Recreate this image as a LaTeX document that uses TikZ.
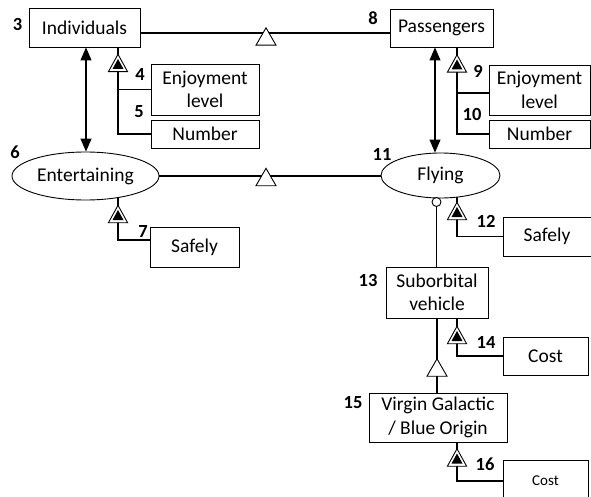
\documentclass[tikz,border=0pt]{standalone}
\usepackage{fontspec}
\setmainfont{Carlito}
\usetikzlibrary{shapes.geometric,arrows.meta}
\pgfdeclarelayer{links}
\pgfsetlayers{links,main}
\tikzset{
  obj/.style={draw, fill=white, line width=0.9pt, inner sep=0pt, align=center,
    font=\fontsize{19.5}{23.5}\selectfont},
  proc/.style={obj, ellipse},
  num/.style={inner sep=0pt, font=\fontsize{18.5}{20}\selectfont\bfseries},
  link/.style={line width=1.1pt},
  both/.style={link, {Triangle[length=13pt,width=11pt]}-{Triangle[length=13pt,width=11pt]}},
  gen/.pic={\draw[line width=0.9pt, fill=white] (-10,8.7) -- (10,8.7) -- (0,-8.7) -- cycle;},
  exh/.pic={\draw[line width=0.9pt, fill=white] (-9.6,8.7) -- (9.6,8.7) -- (0,-8.7) -- cycle;
            \fill (-5.5,6) -- (5.5,6) -- (0,-4) -- cycle;},
}
\begin{document}
\begin{tikzpicture}[x=1pt, y=-1pt]
\useasboundingbox (0,0) rectangle (591,497);
\clip (0,0) rectangle (591,497);

% things and processes
\node[obj, minimum width=111, minimum height=39] (ind) at (84.5,27.5) {Individuals};
\node[obj, minimum width=103, minimum height=38] (pas) at (441.5,28) {Passengers};
\node[obj, minimum width=108, minimum height=51] (enj1) at (205,89.5) {Enjoyment\\level};
\node[obj, minimum width=108, minimum height=28] (num1) at (205,134) {Number};
\node[obj, minimum width=101, minimum height=50] (enj2) at (539.5,90) {Enjoyment\\level};
\node[obj, minimum width=101, minimum height=28] (num2) at (539.5,134) {Number};
\node[proc, minimum width=147, minimum height=48] (ent) at (85.5,176) {Entertaining};
\node[proc, minimum width=119, minimum height=45] (fly) at (440.5,175.5) {Flying};
\node[obj, minimum width=89, minimum height=40] (safe1) at (194.5,247) {Safely};
\node[obj, minimum width=97, minimum height=39] (safe2) at (551.5,236.5) {\hspace*{-9pt}Safely};
\node[obj, minimum width=102, minimum height=51] (sub) at (437,292.5) {Suborbital\\vehicle};
\node[obj, minimum width=85, minimum height=38] (cost1) at (545.5,356) {Cost};
\node[obj, minimum width=138, minimum height=49] (vg) at (438,417.5) {Virgin Galactic\\/ Blue Origin};
\node[obj, minimum width=85, minimum height=42, font=\fontsize{15}{18}\selectfont] (cost2) at (545.5,481) {Cost};
\node[circle, draw, fill=white, line width=0.9pt, minimum size=9pt, inner sep=0pt] (ins) at (436.5,202) {};

% numbering
\node[num] (n3) at (17.5,25) {3};
\node[num] (n4) at (140,74) {4};
\node[num] (n5) at (139,112) {5};
\node[num] (n6) at (15,152) {6};
\node[num] (n7) at (143,232) {7};
\node[num] (n8) at (373,18) {8};
\node[num] (n9) at (478,71) {9};
\node[num] (n10) at (472,114.5) {10};
\node[num] (n11) at (382,154) {11};
\node[num] (n12) at (486,221) {12};
\node[num] (n13) at (368,280) {13};
\node[num] (n14) at (486,342) {14};
\node[num] (n15) at (353,403) {15};
\node[num] (n16) at (485,464) {16};

% junction points of the structural links
\coordinate (g1) at (266,33);
\coordinate (g2) at (266,176);
\coordinate (x1) at (118,63);
\coordinate (x2) at (457,63.5);
\coordinate (x3) at (118,214);
\coordinate (x4) at (457,211);
\coordinate (x5) at (457,335);
\coordinate (x6) at (457,457.5);

\begin{pgfonlayer}{links}
  % generalization lines
  \draw[link] (ind.center |- g1) -- (pas.center |- g1);
  \draw[link] (ent.center |- g2) -- (fly.center |- g2);
  \draw[link] (sub.center) -- (sub.center |- vg.center);
  % exhibition lines
  \draw[link] (ind.center -| x1) |- (enj1.west);
  \draw[link] (x1) |- (num1.west);
  \draw[link] (pas.center -| x2) |- ([yshift=-3pt]enj2.west);
  \draw[link] (x2) |- (num2.west);
  \draw[link] (ent.center -| x3) |- ([yshift=7pt]safe1.west);
  \draw[link] (fly.center -| x4) |- (safe2.west);
  \draw[link] (sub.center -| x5) |- (cost1.west);
  \draw[link] (vg.center -| x6) |- (cost2.west);
\end{pgfonlayer}

% instrument link
\draw[link] (ins.south) -- (sub.north -| ins);

% effect links
\draw[both] (ind.south -| 86,0) -- (ent.north -| 86,0);
\draw[both] (pas.south -| 435,0) -- (fly.north -| 435,0);

% link symbols
\pic at (266,36.5) {gen};
\pic at (266,177) {gen};
\pic at (437,367.5) {gen};
\pic at (x1) {exh};
\pic at (x2) {exh};
\pic at (x3) {exh};
\pic at (x4) {exh};
\pic at (x5) {exh};
\pic at (x6) {exh};
\end{tikzpicture}
\end{document}
